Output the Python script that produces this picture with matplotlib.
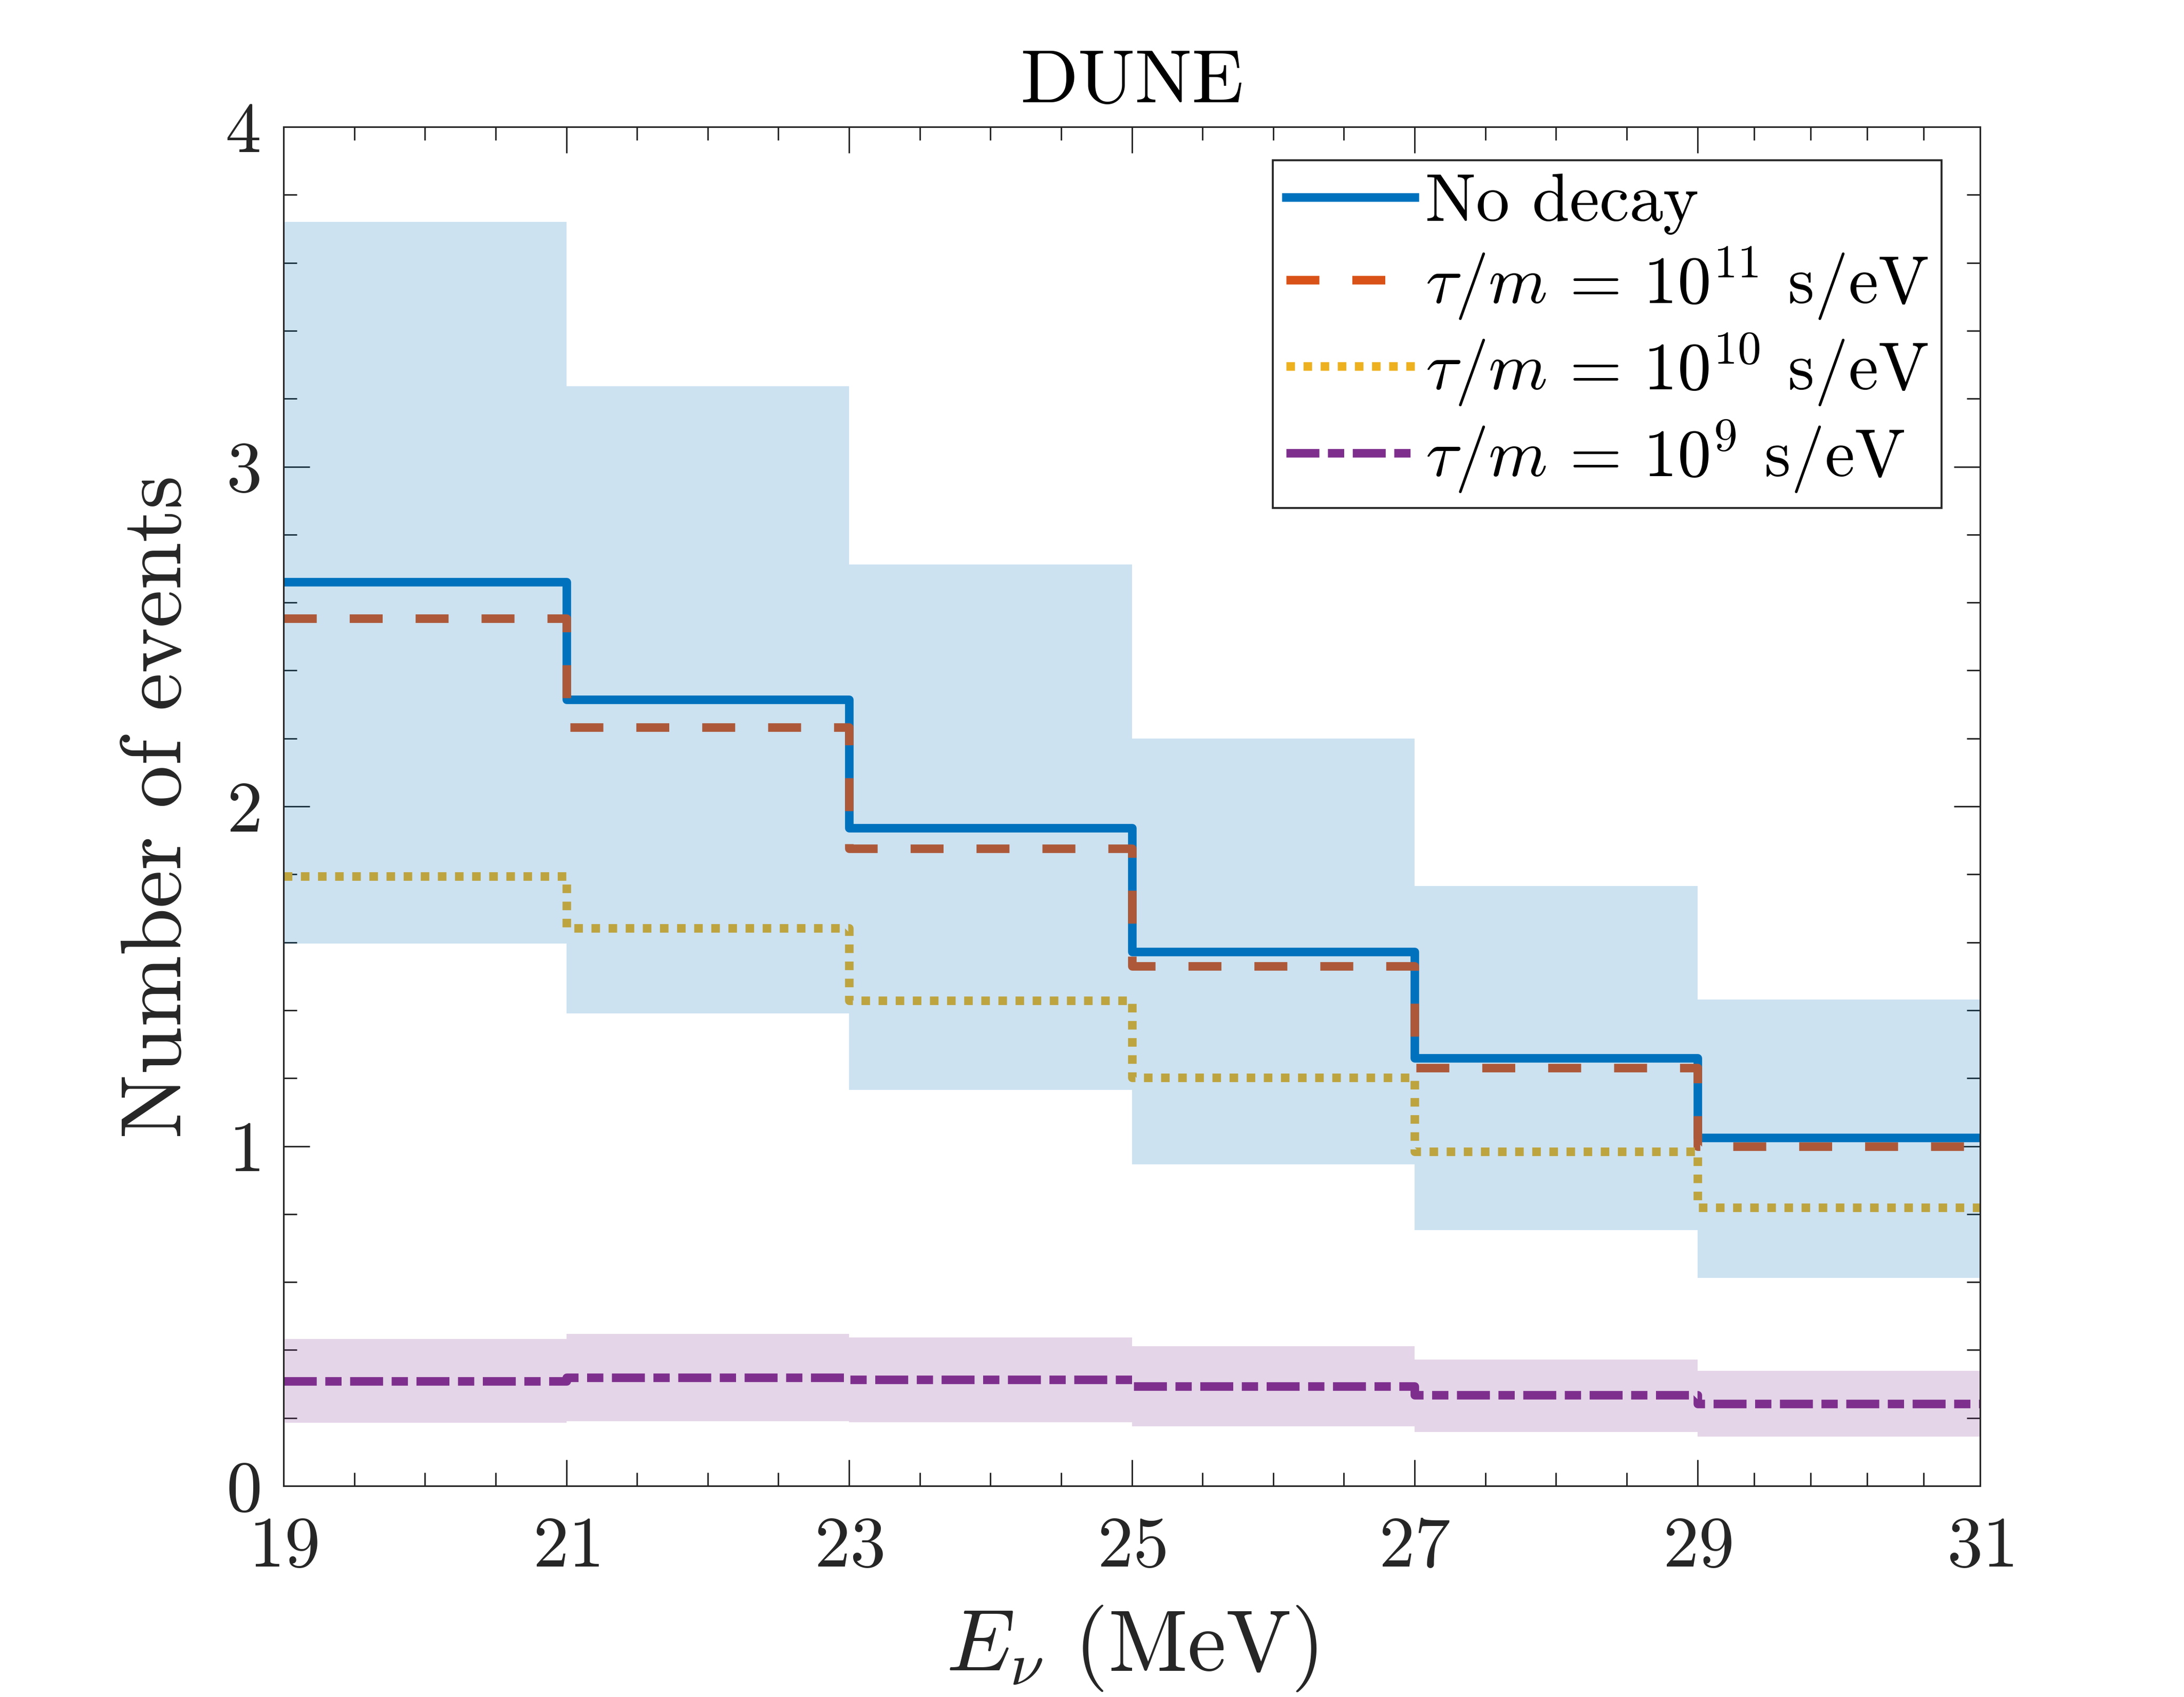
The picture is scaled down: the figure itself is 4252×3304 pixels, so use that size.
import numpy as np
import matplotlib
matplotlib.use('Agg')
import matplotlib.pyplot as plt

plt.rcParams['font.family'] = 'serif'
plt.rcParams['font.serif'] = ['cmr10']
plt.rcParams['mathtext.fontset'] = 'cm'
plt.rcParams['axes.unicode_minus'] = False
plt.rcParams['axes.formatter.use_mathtext'] = True

# bin edges (MeV)
edges = np.array([19, 21, 23, 25, 27, 29, 31])

# event counts per bin
no_decay = np.array([2.661, 2.314, 1.936, 1.572, 1.259, 1.025])
tau_1e11 = np.array([2.554, 2.233, 1.876, 1.530, 1.230, 1.000])
tau_1e10 = np.array([1.794, 1.642, 1.428, 1.202, 0.984, 0.819])
tau_1e9 = np.array([0.309, 0.319, 0.313, 0.294, 0.267, 0.242])

# uncertainty bands
band_nd_hi = np.array([3.721, 3.236, 2.712, 2.200, 1.765, 1.432])
band_nd_lo = np.array([1.597, 1.391, 1.165, 0.947, 0.753, 0.613])
band_9_hi = np.array([0.433, 0.447, 0.437, 0.411, 0.372, 0.339])
band_9_lo = np.array([0.186, 0.191, 0.188, 0.175, 0.159, 0.145])

labels = ['No decay',
          r'$\tau/m\,=\,10^{11}$ s/eV',
          r'$\tau/m\,=\,10^{10}$ s/eV',
          r'$\tau/m\,=\,10^{9}$ s/eV']

blue = '#0072BD'
orange = '#D95319'
yellow = '#EDB120'
purple = '#7E2F8E'
dark = '#262626'

fig = plt.figure(figsize=(4252 / 300, 3304 / 300), dpi=300)
ax = fig.add_axes([552 / 4252, 1 - 2893 / 3304, 3303 / 4252, 2646 / 3304])

lw = 4.0
common = dict(lw=lw, baseline=None, joinstyle='round', capstyle='butt', zorder=2)
h1 = ax.stairs(no_decay, edges, color=blue, linestyle='-', **common)
h2 = ax.stairs(tau_1e11, edges, color=orange, linestyle=(0, (3.85, 3.85)), **common)
h3 = ax.stairs(tau_1e10, edges, color=yellow, linestyle=(0, (1, 1)), **common)
h4 = ax.stairs(tau_1e9, edges, color=purple, linestyle=(0, (3.85, 1, 1.9, 1)), **common)

# shaded bands drawn over the lines, as in the original
ax.stairs(band_nd_hi, edges, baseline=band_nd_lo, fill=True, color=blue, alpha=0.2, lw=0, zorder=2.2)
ax.stairs(band_9_hi, edges, baseline=band_9_lo, fill=True, color=purple, alpha=0.2, lw=0, zorder=2.2)

ax.set_xlim(19, 31)
ax.set_ylim(0, 4)
ax.set_xticks(edges)
ax.set_xticks([19.5, 20, 20.5, 21.5, 22, 22.5, 23.5, 24, 24.5, 25.5, 26, 26.5,
               27.5, 28, 28.5, 29.4, 29.8, 30.2, 30.6], minor=True)
ax.set_yticks([0, 1, 2, 3, 4])
ax.set_yticks(np.arange(0.2, 4, 0.2), minor=True)

ax.tick_params(which='both', direction='in', top=True, right=True, colors=dark,
               width=0.7, labelsize=33.5)
ax.tick_params(which='major', length=12.3)
ax.tick_params(which='minor', length=6.2)
ax.tick_params(axis='x', which='major', pad=14.4)
ax.tick_params(axis='y', which='major', pad=11)
for s in ax.spines.values():
    s.set_color(dark)
    s.set_linewidth(0.75)

ax.set_xlabel(r'$E_\nu$ (MeV)', fontsize=40.5, color=dark, labelpad=10.8)
ax.set_ylabel('Number of events', fontsize=40, color=dark, labelpad=13)
ax.set_title('DUNE', fontsize=35.5, color='black', pad=11.5)

leg = ax.legend([h1, h2, h3, h4], labels, loc='upper right',
                bbox_to_anchor=(3780 / 4252, 1 - 312 / 3304), bbox_transform=fig.transFigure,
                borderaxespad=0, fontsize=31.5, frameon=True, fancybox=False,
                edgecolor=dark, framealpha=1, handlelength=1.9, handletextpad=0.16,
                borderpad=0.2, labelspacing=0.15)
leg.get_frame().set_linewidth(0.9)
for t in leg.get_texts():
    t.set_color('black')

fig.savefig('out.png', dpi=300)
